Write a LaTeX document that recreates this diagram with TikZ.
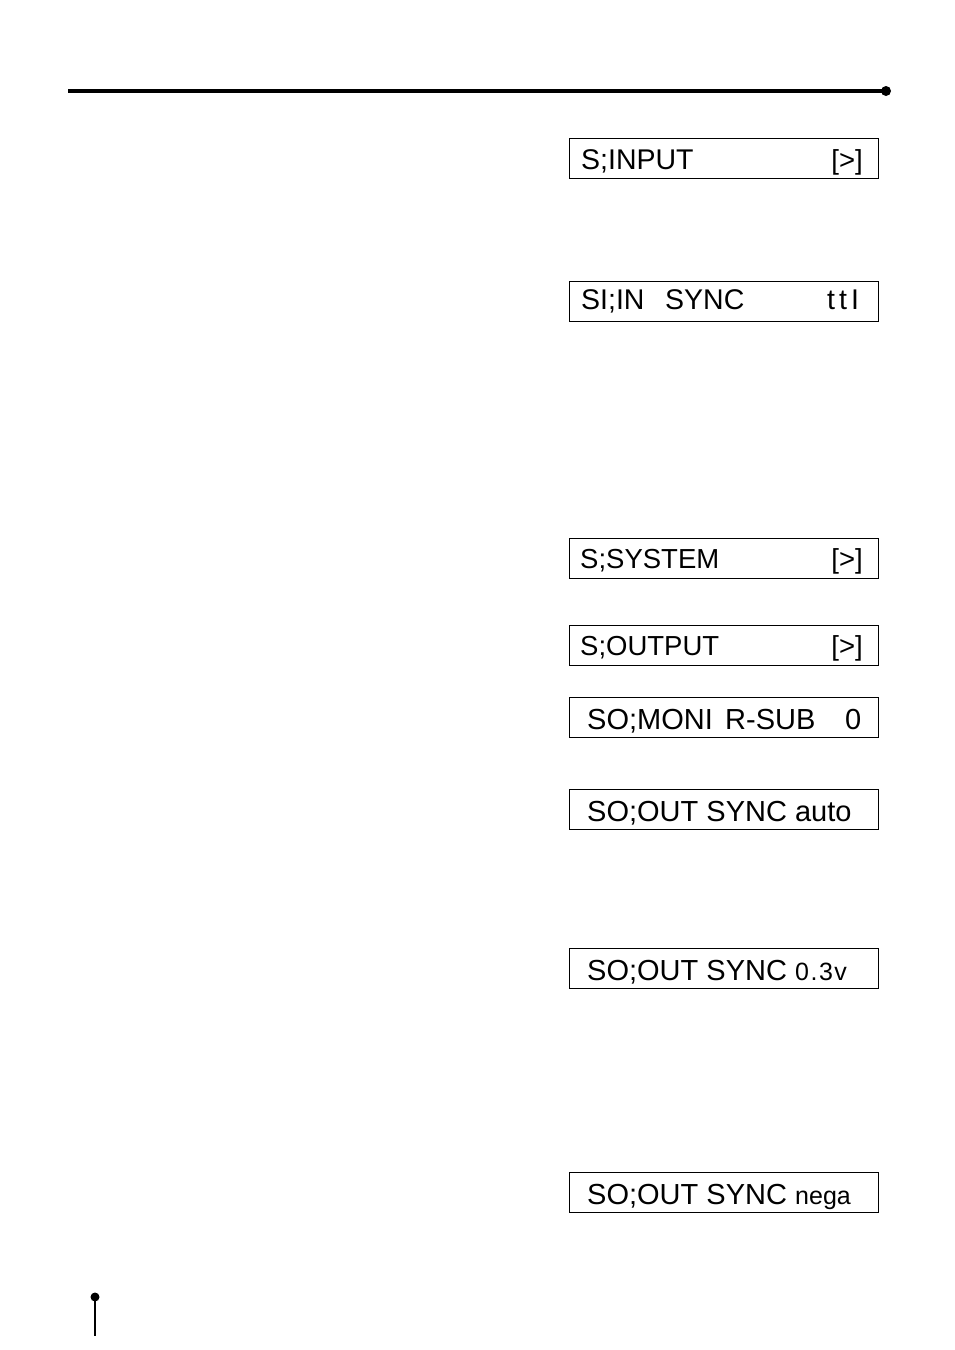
\documentclass[tikz,border=0pt]{standalone}
\usepackage{fontspec}
\setmainfont{Liberation Sans}
\begin{document}
\begin{tikzpicture}[x=1pt,y=-1pt,
  lcd/.style={draw,line width=1.3pt,minimum width=309pt,minimum height=40pt,inner sep=0pt,anchor=north west},
  lt/.style={inner sep=0pt,font=\fontsize{28.5}{29}\selectfont},
  ot/.style={inner sep=0pt,font=\fontsize{29}{29}\selectfont},
  nt/.style={inner sep=0pt,font=\fontsize{27.5}{29}\selectfont},
  st/.style={inner sep=0pt,font=\fontsize{25}{25}\selectfont}]
\useasboundingbox (0,0) rectangle (954,1350);
% top rule
\coordinate (rs) at (68,91);
\coordinate (re) at (886,91);
\draw[line width=4pt] (rs) -- (re);
\fill (re) circle (5);
% bottom marker
\coordinate (ms) at (95,1297);
\coordinate (me) at (95,1336);
\draw[line width=2.5pt] (ms) -- (me);
\fill (ms) circle (4.5);
% boxes
\node[lcd] (b1) at (569,138) {};
\node[lcd] (b2) at (569,281) {};
\node[lcd] (b3) at (569,538) {};
\node[lcd] (b4) at (569,625) {};
\node[lcd] (b5) at (569,697) {};
\node[lcd] (b6) at (569,789) {};
\node[lcd] (b7) at (569,948) {};
\node[lcd] (b8) at (569,1172) {};
% texts
\node[lt,anchor=base west] (t1a) at (581,169) {S;INPUT};
\node[nt,anchor=base east] (t1b) at (863,169) {[>]};
\node[lt,anchor=base west] (t2a) at (581,309) {SI;IN};
\node[lt,anchor=base west] (t2b) at (665,309) {SYNC};
\node[lt,anchor=base west] (t2c) at (827,309) {t\hspace{4pt}t\hspace{4pt}I};
\node[nt,anchor=base west] (t3a) at (580,568) {S;SYSTEM};
\node[nt,anchor=base east] (t3b) at (863,568) {[>]};
\node[nt,anchor=base west] (t4a) at (580,655) {S;OUTPUT};
\node[nt,anchor=base east] (t4b) at (863,655) {[>]};
\node[ot,anchor=base west] (t5a) at (587,729) {SO;MONI};
\node[ot,anchor=base west] (t5b) at (725,729) {R-SUB};
\node[ot,anchor=base west] (t5c) at (845,729) {0};
\node[ot,anchor=base west] (t6a) at (587,821) {SO;OUT SYNC auto};
\node[ot,anchor=base west] (t7a) at (587,980) {SO;OUT SYNC};
\node[st,anchor=base west] (t7b) at (795,980) {0\hspace{1.5pt}.\hspace{1.5pt}3\hspace{1.5pt}v};
\node[ot,anchor=base west] (t8a) at (587,1204) {SO;OUT SYNC};
\node[st,anchor=base west] (t8b) at (795,1204) {nega};
\end{tikzpicture}
\end{document}
